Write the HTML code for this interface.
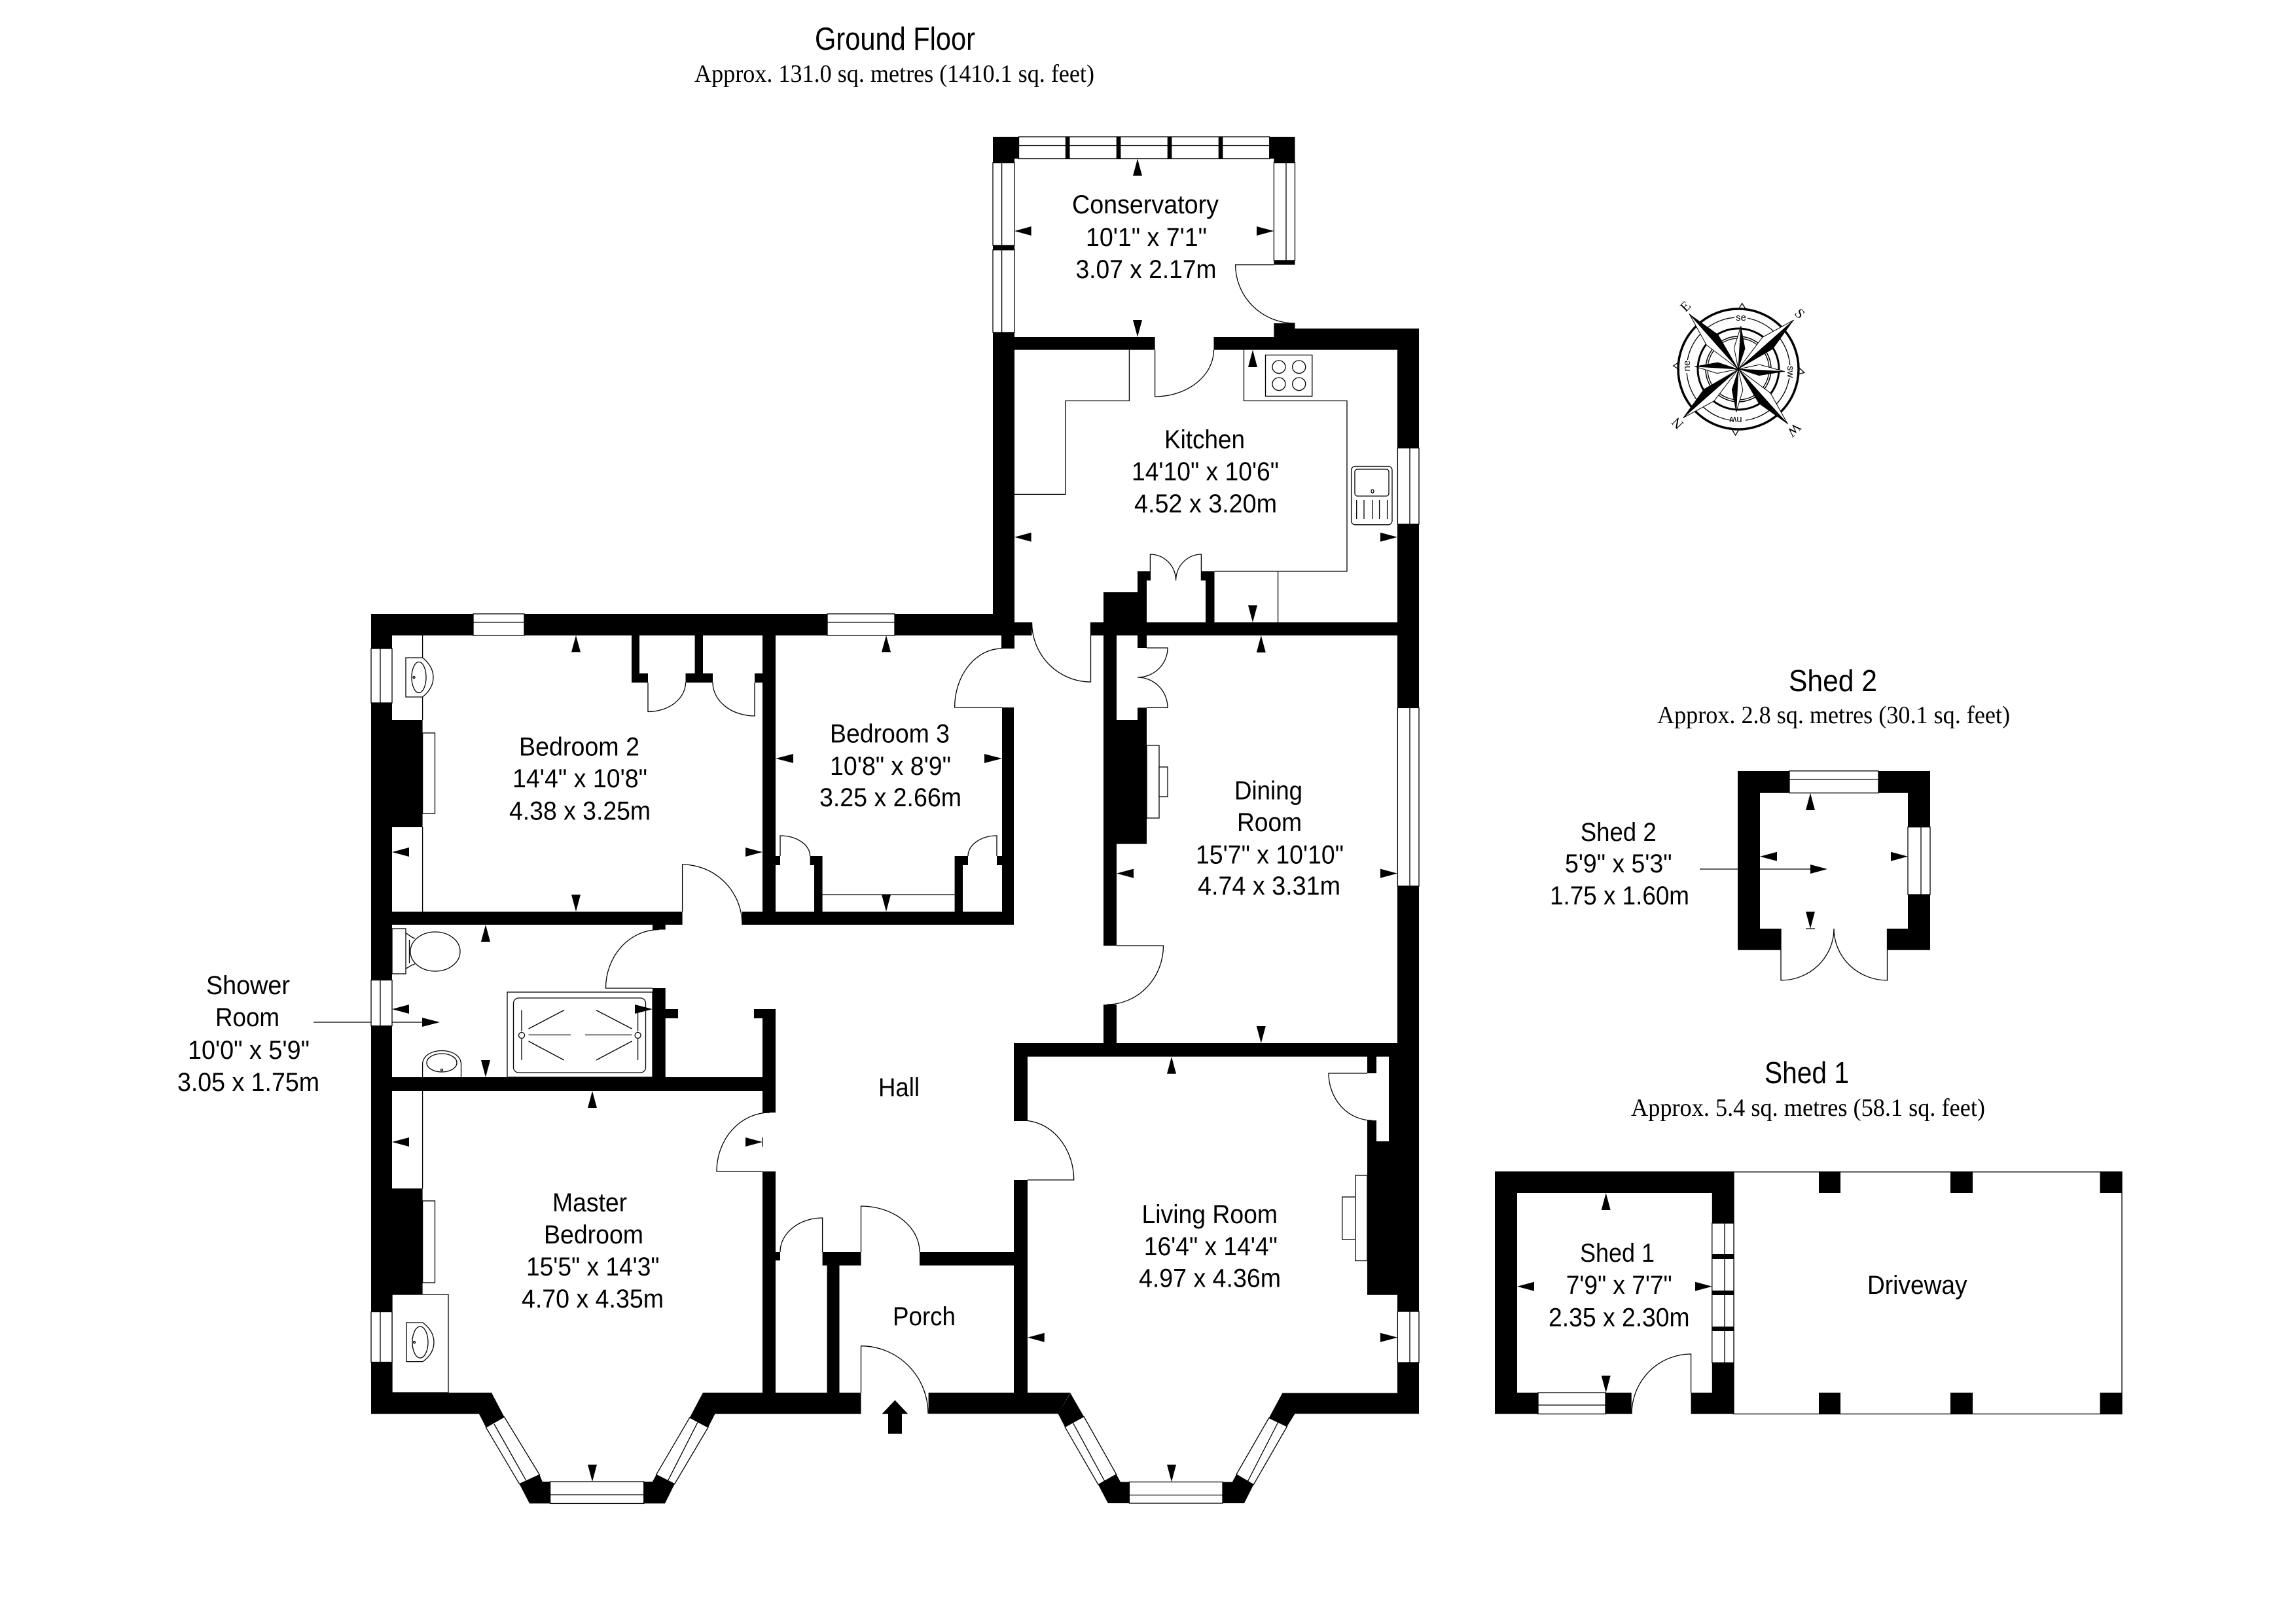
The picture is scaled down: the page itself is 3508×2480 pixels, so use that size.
<!DOCTYPE html>
<html><head><meta charset="utf-8"><title>Ground Floor</title>
<style>
html,body{margin:0;padding:0;background:#fff}
svg{display:block}
.t{fill:none;stroke:#000;stroke-width:1.3}
.w{fill:#fff;stroke:#000;stroke-width:1.3}
text{font-family:"Liberation Sans",sans-serif;font-size:40px;fill:#000}
text.s{font-family:"Liberation Serif",serif;font-size:38px}
</style></head><body>
<svg xmlns="http://www.w3.org/2000/svg" width="3508" height="2480" viewBox="0 0 3508 2480">
<rect width="3508" height="2480" fill="#fff"/>

<!-- pointers + door leaves + fixtures under walls -->
<path class="t" d="M479,1562H650 M2597,1328H2770"/>
<path class="t" d="
M990,1043V1087.5A57.5,44.5 0 0 0 1047.5,1043
M1153,1043V1094A64,51 0 0 1 1089,1043
M1042.6,1393V1321A91.4,92 0 0 1 1134,1413
M997,1510H925.5A81.5,89.5 0 0 1 1007,1420.5
M1531,1081H1458.6A72.4,90 0 0 1 1531,991
M1666.5,951V1042A90,91 0 0 1 1576.5,951
M1192,1308V1277A45.6,31 0 0 1 1237.6,1308
M1523,1308V1277A44,31 0 0 0 1479,1308
M1165,1790H1095A81,90 0 0 1 1176,1700
M1256.6,1913V1861A64.6,52 0 0 0 1192,1913
M1315.5,1913V1843A89.5,70 0 0 1 1405,1913
M1315.5,2128V2056.7A102.5,103.3 0 0 1 1418,2160
M1570,1803H1640.7A78.7,91 0 0 0 1562,1712
M2089,1640H2030A66,72 0 0 0 2096,1712
M1706,1445H1777.5A86.5,90 0 0 1 1691,1535
M1752,990H1784A46,45 0 0 1 1738,1035
M1752,1081.4H1784A46,46.4 0 0 0 1738,1035
M1757.4,887V847A39.2,40 0 0 1 1796.6,887
M1835.4,887V847A38.8,40 0 0 0 1796.6,887
M1764.6,534.6V606A89.9,71.4 0 0 0 1854.5,534.6
M1946.4,404.6H1887.6A90.9,89.4 0 0 0 1978.5,494
M2583.6,2128V2069A90.6,91.6 0 0 0 2493,2160.6
M2721,1419V1498A81,79 0 0 0 2802,1419
M2883.5,1419V1498A81.5,79 0 0 1 2802,1419
"/>
<!-- built-in units -->
<path class="t" d="
M645.6,971V1100 M645.6,1264V1393 M645.6,1667V1816
M1256.6,1367H1458.6
M1725.4,534.6V612.5H1627.8V755.4H1550
M1900.5,534.6V612.5H2058V873H1855.5 M1952.6,873V951
"/>
<rect class="w" x="645.6" y="1120" width="18.9" height="123"/>
<rect class="w" x="645.6" y="1835" width="18.9" height="125"/>
<rect class="w" x="599" y="1978" width="86" height="150"/>
<rect class="w" x="1752" y="1139" width="19" height="111"/>
<rect class="w" x="1771" y="1172" width="13" height="45.5"/>
<rect class="w" x="2070.8" y="1796" width="18.2" height="130.5"/>
<rect class="w" x="2050.7" y="1829" width="20.1" height="65"/>

<!-- hand basins -->
<path class="w" d="M620,1005H645.6C658,1015 662,1025 662,1035C662,1045 658,1055 645.6,1065H620Z"/>
<ellipse class="t" cx="640" cy="1035" rx="11" ry="23.5"/>
<circle class="t" cx="632.5" cy="1035" r="1.5"/>
<path class="w" d="M621,2021H646C658,2030 663,2040 663,2051C663,2062 658,2072 646,2080.6H621Z"/>
<ellipse class="t" cx="642" cy="2051" rx="12" ry="24"/>
<circle class="t" cx="633" cy="2051" r="1.5"/>
<path class="w" d="M645.6,1646V1625C647,1612 660,1605.5 675,1605.5C690,1605.5 703,1612 704.5,1625V1646"/>
<ellipse class="t" cx="675" cy="1624" rx="23" ry="14"/>
<circle class="t" cx="675" cy="1635" r="1.5"/>

<!-- toilet -->
<rect class="w" x="599" y="1419" width="21" height="69"/>
<path class="t" d="M620,1426C625,1428 627,1432 634,1434 M620,1480C625,1478 627,1475 634,1473 M625.5,1436V1472"/>
<ellipse class="w" cx="665" cy="1454" rx="38" ry="30"/>

<!-- shower -->
<rect class="w" x="775" y="1516" width="222" height="130"/>
<rect class="t" x="784.5" y="1525" width="202" height="114" rx="8" ry="8"/>
<path class="t" d="M797,1543.5V1576 M797,1587.5V1620 M974.6,1543.5V1576 M974.6,1587.5V1620
M807.6,1581.4H872 M894,1581.4H965.5
M807.6,1572L862,1543.5 M910.7,1543.5L965.5,1572 M807.6,1591L862,1620 M910.7,1620L965.5,1591"/>
<ellipse class="t" cx="797" cy="1582" rx="4.5" ry="4.5"/>
<ellipse class="t" cx="974.6" cy="1582" rx="4.5" ry="4.5"/>

<!-- hob + kitchen sink -->
<rect class="t" x="1933.5" y="542.5" width="71.3" height="62.9"/>
<ellipse class="t" cx="1954" cy="560.7" rx="10" ry="9.8"/>
<ellipse class="t" cx="1984.7" cy="560.7" rx="10" ry="9.8"/>
<ellipse class="t" cx="1954" cy="586.8" rx="10" ry="9.8"/>
<ellipse class="t" cx="1984.7" cy="586.8" rx="10" ry="9.8"/>
<rect class="t" x="2064.6" y="712.5" width="62.4" height="89.3" rx="6"/>
<rect class="t" x="2070" y="717" width="52" height="41" rx="4"/>
<ellipse class="t" cx="2097" cy="750.7" rx="2" ry="2.5"/>
<path class="t" d="M2072.7,764V793 M2084,764V793 M2096.7,764V793 M2107.6,764V793 M2119.6,764V793"/>

<!-- driveway outline -->
<rect class="t" x="2649" y="1790.8" width="593" height="369.8"/>

<!-- walls -->
<path fill="#000" d="
M567,938H1530V971H567Z M1517,951H1576.5V971H1517Z M1530,971H1550V991H1530Z
M567,938H599V2160H567Z
M599,1100H645.6V1264H599Z M599,1816H645.6V1978H599Z
M965,971H977V1043H965Z M965,1029H990V1043H965Z
M1061.6,971H1074V1043H1061.6Z M1047.5,1029H1089V1043H1047.5Z M1153,1029H1165V1043H1153Z
M1165,971H1185V1413H1165Z
M599,1393H1042.6V1413H599Z M1134,1393H1549V1413H1134Z M997,1413H1016.7V1420.5H997Z
M1531,1081H1549V1413H1531Z
M1237.6,1308H1256.6V1322H1237.6Z M1244,1322H1256.6V1393H1244Z M1185,1308H1192V1322H1185Z
M1458.6,1308H1479V1322H1458.6Z M1458.6,1322H1471V1393H1458.6Z M1523,1308H1531V1322H1523Z
M997,1510H1016.7V1646H997Z M1016.7,1542H1036V1556H1016.7Z
M599,1646H1185V1667H599Z M1152,1542H1185V1556H1152Z M1165,1556H1185V1700H1165Z
M1165,1790H1185V2128H1165Z M1185,1913H1192V1926H1185Z
M1256.6,1913H1315.5V1933.6H1256.6Z M1263.6,1933.6H1282.5V2128H1263.6Z
M1405,1913H1549V1933.6H1405Z
M1549,1803H1570V2130H1549Z M1549,1594H1570V1713H1549Z M1549,1594H2135V1614.6H1549Z
M567,2128H751L732,2160.6H567Z
M1074,2128H1315.5V2160.6H1092.4Z
M1418.6,2128H1635.4L1616.7,2160.4H1418.6Z
M1959.3,2128.6H2168V2160.4H1978.5Z
M2135,502H2168V2160H2135Z
M1517,508H1550V971H1517Z
M1517,515H1764.6V534.6H1517Z M1854.5,515H1946.4V534.6H1854.5Z
M1946.4,494H1978.5V534.6H1946.4Z M1978.5,502H2168V534.6H1978.5Z
M1517,209H1556.5V242.5H1517Z M1517,242.5H1550V248.6H1517Z
M1939.7,209H1978.5V242.5H1939.7Z M1946.4,242.5H1978.5V248.6H1946.4Z
M1946.4,398H1978.5V404.6H1946.4Z
M1666.5,951H2135V971H1666.5Z
M1686,905H1752V951H1686Z M1738,873H1752V905H1738Z M1738,873H1757.4V887H1738Z
M1835.4,873H1855.5V887H1835.4Z M1842,887H1855.5V951H1842Z
M1686,971H1706V1445H1686Z M1686,1535H1706V1594H1686Z
M1738,971H1752V990H1738Z M1738,1081.4H1752V1100H1738Z M1686,1100H1752V1289.6H1686Z
M2089,1614.6H2103V1640H2089Z M2089,1712H2103V1744H2089Z M2122,1614.6H2135V1744H2122Z
M2089,1744H2135V1978.8H2089Z
M751,2128L732,2160.6L742.4,2181L770.4,2165Z
M793.6,2267.6L824.4,2253.5L828.7,2264H840.6V2297.4H809Z
M983.7,2264H997L1002.6,2253.5L1030.7,2267.6L1016,2297.4H983.7Z
M1074,2128L1092.4,2160.6L1082,2181L1053.8,2166Z
M1635.4,2128.6L1616.7,2160.4L1627,2180.4L1656,2164.5Z
M1678,2268.6L1705.7,2253L1712,2264.5H1725.4V2297H1692.8Z
M1868,2264.5H1882.8L1889,2253L1915.3,2268.6L1901,2297H1868Z
M1938.8,2166.5L1966.5,2179.6L1978.5,2160.4L1959.3,2128.6Z
M2284,1790H2649V1823H2284Z M2284,1790H2318V2160.6H2284Z M2615.8,1790H2649V2160.6H2615.8Z
M2284,2128H2492.7V2160.6H2284Z M2583.6,2128H2649V2160.6H2583.6Z
M2779,1790H2812V1823H2779Z M2980,1790H3014V1823H2980Z M3208.5,1790H3242V1823H3208.5Z
M2779,2128H2812V2160.6H2779Z M2980,2128H3014V2160.6H2980Z M3208.5,2128H3242V2160.6H3208.5Z
M2655,1178H2949V1211.7H2655Z M2655,1178H2689V1451.7H2655Z M2915,1178H2949V1451.7H2915Z
M2655,1419H2721V1451.7H2655Z M2883.5,1419H2949V1451.7H2883.5Z
"/>

<!-- windows -->
<g class="win">
<rect class="w" x="723" y="938" width="78" height="33"/>
<rect class="w" x="1264" y="938" width="103" height="33"/>
<rect class="w" x="567" y="991" width="32" height="83"/>
<rect class="w" x="567" y="1497.6" width="32" height="70"/>
<rect class="w" x="567" y="2004.5" width="32" height="77"/>
<rect class="w" x="1556.5" y="209" width="383.2" height="33.5"/>
<rect class="w" x="1946.4" y="248.6" width="32.1" height="149.4"/>
<rect class="w" x="1517" y="248.6" width="33" height="126.4"/>
<rect class="w" x="1517" y="381.8" width="33" height="126.2"/>
<rect class="w" x="2135.4" y="684.6" width="32.6" height="116.4"/>
<rect class="w" x="2135.4" y="1081.4" width="32.6" height="272.6"/>
<rect class="w" x="2135.4" y="2004" width="32.6" height="78"/>
<rect class="w" x="840.6" y="2264" width="143.1" height="33.4"/>
<rect class="w" x="1725.4" y="2264.5" width="142.6" height="32.5"/>
<polygon class="w" points="742.4,2181 770.4,2165 824.4,2253.5 793.6,2267.6"/>
<polygon class="w" points="1053.8,2166 1082,2181 1030.7,2267.6 1002.6,2253.5"/>
<polygon class="w" points="1627,2180.4 1656,2164.5 1705.7,2253 1678,2268.6"/>
<polygon class="w" points="1938.8,2166.5 1966.5,2179.6 1915.3,2268.6 1889,2253"/>
<rect class="w" x="2615.8" y="1869" width="33.2" height="213.3"/>
<rect class="w" x="2350" y="2128" width="103" height="32.6"/>
<rect class="w" x="2734" y="1178" width="136" height="33.7"/>
<rect class="w" x="2915" y="1263.7" width="34" height="103.3"/>
<path class="t" d="M723,951H801 M1264,951H1367 M581,991V1074 M581,1497.6V1567.6 M581,2004.5V2081.6
M1556.5,222.5H1939.7 M1965,248.6V398 M1530.6,248.6V375 M1530.6,381.8V508
M2154,684.6V801 M2154,1081.4V1354 M2154,2004V2082
M840.6,2284H983.7 M1725.4,2284.5H1868
M755,2176L803.4,2261.6 M1021,2261.6L1065.8,2173.6 M1639.7,2174.7L1687.6,2263 M1906.7,2263L1952.6,2173.5
M2635,1869V2082.3 M2350,2147H2453 M2734,1191H2870 M2935,1263.7V1367"/>
</g>
<path fill="#000" d="
M1627.8,209H1634.5V242.5H1627.8Z M1705.7,209H1712.4V242.5H1705.7Z M1783.7,209H1790.4V242.5H1783.7Z M1861.7,209H1868.4V242.5H1861.7Z
M1517,375H1550V381.8H1517Z
M2615.8,1916H2649V1924H2615.8Z M2615.8,1972H2649V1979H2615.8Z M2615.8,2027H2649V2034H2615.8Z"/>

<!-- dimension arrowheads -->
<path fill="#000" d="
M880,971L887,996.4H873Z M1354,971L1361,996.4H1347Z
M599,1302L625,1295V1309Z M1165,1302L1139,1295V1309Z M880,1393L887,1367H873Z
M1185,1159L1212,1152V1166Z M1531,1159L1504,1152V1166Z M1354,1393L1361,1367H1347Z
M742,1413L749,1439H735Z M599,1542L625,1535V1549Z M997,1542L970,1535V1549Z M742,1646L749,1620H735Z
M905,1667L912,1693H898Z M599,1745L625,1738V1752Z M1165,1745L1139,1738V1752Z M905,2264L912,2238H898Z
M1738,242.5L1745,268.6H1731Z M1550,353L1575.6,346V360Z M1946.4,353L1920,346V360Z M1738,515L1745,489H1731Z
M1914,534.6L1921,561H1907Z M1550,820.7L1575.6,813.7V827.7Z M2135,820.7L2109,813.7V827.7Z M1914,951L1921,925H1907Z
M1926.8,971L1933.8,997H1919.8Z M1706,1334.6L1732,1327.6V1341.6Z M2135,1334.6L2109,1327.6V1341.6Z M1926.8,1594L1933.8,1568H1919.8Z
M1790,1614.6L1797,1640.7H1783Z M1570,2043.7L1595.7,2036.7V2050.7Z M2135.4,2043.7L2109,2036.7V2050.7Z M1790,2264.5L1797,2238H1783Z
M2453.7,1823L2460.7,1849H2446.7Z M2318,1965.7L2344,1958.7V1972.7Z M2615.8,1965.7L2590,1958.7V1972.7Z M2453.7,2128L2460.7,2102H2446.7Z
M2766,1211.7L2773,1238H2759Z M2689,1308.7L2715,1301.7V1315.7Z M2915,1308.7L2889,1301.7V1315.7Z M2766,1419L2773,1393H2759Z
M672,1562L645,1555V1569Z M2792,1328L2766,1321V1335Z
M1367.4,2139.5L1387.4,2160.6H1378V2190.7H1357V2160.6H1347.4Z"/>
<path class="t" d="M2759,1419H2773 M1165,1738V1752"/>

<!-- compass -->
<g>
<circle cx="2656" cy="564" r="92" fill="#fff" stroke="#000" stroke-width="3.5"/>
<circle cx="2656" cy="564" r="79" class="t"/>
<circle cx="2656" cy="564" r="62" fill="none" stroke="#000" stroke-width="3"/>
<circle cx="2656" cy="564" r="50" fill="none" stroke="#000" stroke-width="1.5"/>
<circle cx="2656" cy="564" r="47" class="t"/>
<path class="t" d="M2656.5,472L2661.7,463.5L2667,472 M2746,572L2756.7,569.5L2748,561 M2646,656L2651.7,665L2657,656 M2566,553L2556.7,559L2566,565"/>
<g transform="translate(2656,564) rotate(3.5)"><polygon points="0,0 0,-66 8.5,-32" fill="#000"/><polygon points="0,0 0,-66 -8.5,-32" fill="#fff" stroke="#000"/></g>
<g transform="translate(2656,564) rotate(93)"><polygon points="0,0 0,-71 8.5,-32" fill="#000"/><polygon points="0,0 0,-71 -8.5,-32" fill="#fff" stroke="#000"/></g>
<g transform="translate(2656,564) rotate(183)"><polygon points="0,0 0,-66 8.5,-32" fill="#000"/><polygon points="0,0 0,-66 -8.5,-32" fill="#fff" stroke="#000"/></g>
<g transform="translate(2656,564) rotate(-86.5)"><polygon points="0,0 0,-67 8.5,-32" fill="#000"/><polygon points="0,0 0,-67 -8.5,-32" fill="#fff" stroke="#000"/></g>
<g transform="translate(2656,564) rotate(-41.6)"><polygon points="0,0 0,-113 12,-60" fill="#000"/><polygon points="0,0 0,-113 -12,-60" fill="#fff" stroke="#000"/></g>
<g transform="translate(2656,564) rotate(48.5)"><polygon points="0,0 0,-113 12,-60" fill="#000"/><polygon points="0,0 0,-113 -12,-60" fill="#fff" stroke="#000"/></g>
<g transform="translate(2656,564) rotate(138.1)"><polygon points="0,0 0,-113 12,-60" fill="#000"/><polygon points="0,0 0,-113 -12,-60" fill="#fff" stroke="#000"/></g>
<g transform="translate(2656,564) rotate(-131.4)"><polygon points="0,0 0,-113 12,-60" fill="#000"/><polygon points="0,0 0,-113 -12,-60" fill="#fff" stroke="#000"/></g>
<rect x="2650" y="480" width="20" height="12" fill="#fff"/>
<rect x="2647" y="636" width="20" height="12" fill="#fff"/>
<rect x="2571" y="550" width="12" height="20" fill="#fff"/>
<rect x="2730" y="558" width="12" height="20" fill="#fff"/>
<text x="2660" y="490" text-anchor="middle" style="font-size:15px">se</text>
<text transform="translate(2736,568) rotate(90)" text-anchor="middle" y="5" style="font-size:15px">sw</text>
<text transform="translate(2652,642) rotate(180)" text-anchor="middle" y="5" style="font-size:15px">nw</text>
<text transform="translate(2577,559) rotate(-90)" text-anchor="middle" y="5" style="font-size:15px">ne</text>
<text class="s" transform="translate(2575,468) rotate(-45)" text-anchor="middle" y="7" style="font-size:21px">E</text>
<text class="s" transform="translate(2750,479) rotate(45)" text-anchor="middle" y="7" style="font-size:21px">S</text>
<text class="s" transform="translate(2563,647) rotate(-135)" text-anchor="middle" y="7" style="font-size:21px">N</text>
<text class="s" transform="translate(2741,657) rotate(135)" text-anchor="middle" y="7" style="font-size:21px">W</text>
</g>

<!-- labels -->
<g>
<text x="1245" y="76" textLength="245" lengthAdjust="spacingAndGlyphs" style="font-size:49px">Ground Floor</text>
<text class="s" x="1061" y="125" textLength="611" lengthAdjust="spacingAndGlyphs">Approx. 131.0 sq. metres (1410.1 sq. feet)</text>
<text x="2733" y="1056" textLength="135" lengthAdjust="spacingAndGlyphs" style="font-size:46px">Shed 2</text>
<text class="s" x="2532" y="1105" textLength="539" lengthAdjust="spacingAndGlyphs">Approx. 2.8 sq. metres (30.1 sq. feet)</text>
<text x="2696" y="1655" textLength="129" lengthAdjust="spacingAndGlyphs" style="font-size:46px">Shed 1</text>
<text class="s" x="2492" y="1705" textLength="541" lengthAdjust="spacingAndGlyphs">Approx. 5.4 sq. metres (58.1 sq. feet)</text>

<text x="1638" y="326" textLength="224" lengthAdjust="spacingAndGlyphs">Conservatory</text>
<text x="1659" y="376" textLength="185" lengthAdjust="spacingAndGlyphs">10'1" x 7'1"</text>
<text x="1643.5" y="425" textLength="215" lengthAdjust="spacingAndGlyphs">3.07 x 2.17m</text>

<text x="1779" y="685" textLength="123" lengthAdjust="spacingAndGlyphs">Kitchen</text>
<text x="1729" y="734" textLength="225" lengthAdjust="spacingAndGlyphs">14'10" x 10'6"</text>
<text x="1733" y="783" textLength="218" lengthAdjust="spacingAndGlyphs">4.52 x 3.20m</text>

<text x="793" y="1154.5" textLength="184" lengthAdjust="spacingAndGlyphs">Bedroom 2</text>
<text x="783" y="1203" textLength="206" lengthAdjust="spacingAndGlyphs">14'4" x 10'8"</text>
<text x="778" y="1252.5" textLength="216" lengthAdjust="spacingAndGlyphs">4.38 x 3.25m</text>

<text x="1268" y="1134.6" textLength="183" lengthAdjust="spacingAndGlyphs">Bedroom 3</text>
<text x="1268" y="1184" textLength="185" lengthAdjust="spacingAndGlyphs">10'8" x 8'9"</text>
<text x="1252" y="1232" textLength="217" lengthAdjust="spacingAndGlyphs">3.25 x 2.66m</text>

<text x="1886" y="1221.4" textLength="104" lengthAdjust="spacingAndGlyphs">Dining</text>
<text x="1890" y="1270" textLength="99" lengthAdjust="spacingAndGlyphs">Room</text>
<text x="1827" y="1319.3" textLength="226" lengthAdjust="spacingAndGlyphs">15'7" x 10'10"</text>
<text x="1830" y="1367" textLength="218" lengthAdjust="spacingAndGlyphs">4.74 x 3.31m</text>

<text x="315" y="1519" textLength="128" lengthAdjust="spacingAndGlyphs">Shower</text>
<text x="329" y="1568" textLength="98" lengthAdjust="spacingAndGlyphs">Room</text>
<text x="287" y="1618" textLength="186" lengthAdjust="spacingAndGlyphs">10'0" x 5'9"</text>
<text x="271" y="1667" textLength="217" lengthAdjust="spacingAndGlyphs">3.05 x 1.75m</text>

<text x="1342" y="1675" textLength="63" lengthAdjust="spacingAndGlyphs">Hall</text>
<text x="1364" y="2025" textLength="96" lengthAdjust="spacingAndGlyphs">Porch</text>

<text x="844" y="1851" textLength="114" lengthAdjust="spacingAndGlyphs">Master</text>
<text x="831" y="1900" textLength="152" lengthAdjust="spacingAndGlyphs">Bedroom</text>
<text x="804" y="1949" textLength="203.5" lengthAdjust="spacingAndGlyphs">15'5" x 14'3"</text>
<text x="797" y="1998" textLength="217" lengthAdjust="spacingAndGlyphs">4.70 x 4.35m</text>

<text x="1744.5" y="1869" textLength="207.5" lengthAdjust="spacingAndGlyphs">Living Room</text>
<text x="1747.8" y="1918" textLength="204" lengthAdjust="spacingAndGlyphs">16'4" x 14'4"</text>
<text x="1740" y="1966.5" textLength="217" lengthAdjust="spacingAndGlyphs">4.97 x 4.36m</text>

<text x="2414.7" y="1285" textLength="116" lengthAdjust="spacingAndGlyphs">Shed 2</text>
<text x="2391" y="1333" textLength="163.5" lengthAdjust="spacingAndGlyphs">5'9" x 5'3"</text>
<text x="2368" y="1382" textLength="213" lengthAdjust="spacingAndGlyphs">1.75 x 1.60m</text>

<text x="2414" y="1928" textLength="114" lengthAdjust="spacingAndGlyphs">Shed 1</text>
<text x="2392.7" y="1977" textLength="162" lengthAdjust="spacingAndGlyphs">7'9" x 7'7"</text>
<text x="2366" y="2026.7" textLength="215.6" lengthAdjust="spacingAndGlyphs">2.35 x 2.30m</text>
<text x="2853" y="1977" textLength="152.6" lengthAdjust="spacingAndGlyphs">Driveway</text>
</g>
</svg>
</body></html>
